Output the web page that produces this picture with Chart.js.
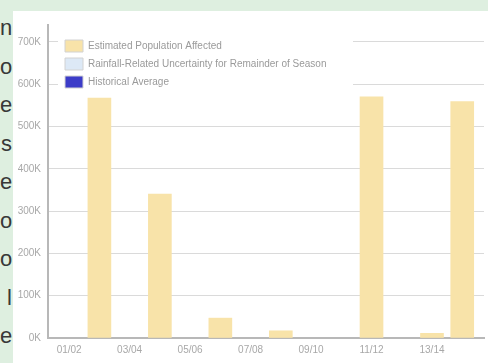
<!DOCTYPE html>
<html>
<head>
<meta charset="utf-8">
<script src="https://cdn.jsdelivr.net/npm/chart.js@4/dist/chart.umd.min.js"></script>
<style>
    html, body { margin: 0; padding: 0; }
    body { width: 488px; height: 363px; background: #deefe0; position: relative; overflow: hidden; font-family: 'Liberation Sans', Arial, sans-serif; }
    #cote { position: absolute; left: 0; top: 9px; width: 12px; text-align: right; color: #383838; font-size: 22px; line-height: 38.5px; overflow: hidden; }
    #panneau { position: absolute; left: 13px; top: 11px; width: 475px; height: 352px; background: #fff; }
</style>
</head>
<body>
<div id="cote">n<br>o<br>e<br>s<br>e<br>o<br>o<br>l<br>e</div>
<div id="panneau"><canvas id="populationGraphique" width="475" height="352"></canvas></div>
<script>
    // Données
    var saisons = ['01/02', '02/03', '03/04', '04/05', '05/06', '06/07', '07/08', '08/09', '09/10', '10/11', '11/12', '12/13', '13/14', '14/15'];
    var populationAffectee = [null, 567000, null, 340000, null, 47000, null, 17000, null, null, 570000, null, 11000, 559000];
    var incertitude = [];
    var moyenneHistorique = [];
    var ticksX = [0, 2, 4, 6, 8, 10, 12];
    var ticksY = [0, 100000, 200000, 300000, 400000, 500000, 600000, 700000];

    function enPoints(valeurs) {
        return valeurs.map(function(v, i) { return { x: i, y: v }; });
    }

    Chart.defaults.font.family = "'Liberation Sans', Arial, sans-serif";

    // fond blanc derrière la légende (elle est dessinée dans la zone du graphique)
    var fondLegende = {
        id: 'fondLegende',
        beforeDraw: function(chart) {
            var lg = chart.legend;
            if (!lg || lg._fondPatch) return;
            var dessin = lg.draw;
            lg.draw = function() {
                var ca = chart.chartArea;
                this.left = ca.left + 11;
                this.top = ca.top + 9;
                var c = chart.ctx;
                c.save();
                c.fillStyle = '#ffffff';
                c.fillRect(ca.left + 10, ca.top + 8, 295, 62);
                c.restore();
                dessin.call(this);
            };
            lg._fondPatch = true;
        }
    };

    var ctx = document.getElementById('populationGraphique').getContext('2d');
    var graphique = new Chart(ctx, {
        type: 'bar',
        data: {
            datasets: [
                {
                    label: 'Estimated Population Affected',
                    data: enPoints(populationAffectee),
                    backgroundColor: '#f8e3a9',
                    borderWidth: 0
                },
                {
                    label: 'Rainfall-Related Uncertainty for Remainder of Season',
                    data: enPoints(incertitude),
                    backgroundColor: '#dde9f6',
                    borderWidth: 0
                },
                {
                    label: 'Historical Average',
                    data: enPoints(moyenneHistorique),
                    backgroundColor: '#3c3cc8',
                    borderWidth: 0
                }
            ]
        },
        options: {
            responsive: false,
            animation: false,
            grouped: false,
            barThickness: 23,
            layout: { padding: { top: 14, right: 4, left: 0, bottom: 0 } },
            plugins: {
                tooltip: { enabled: false },
                legend: {
                    position: 'chartArea',
                    align: 'start',
                    labels: {
                        boxWidth: 18,
                        boxHeight: 12,
                        padding: 6,
                        color: '#9a9a9a',
                        font: { size: 10 },
                        generateLabels: function(chart) {
                            var items = Chart.defaults.plugins.legend.labels.generateLabels(chart);
                            items.forEach(function(it) { it.strokeStyle = '#d2d2d2'; it.lineWidth = 1; });
                            return items;
                        }
                    }
                }
            },
            scales: {
                x: {
                    type: 'linear',
                    offset: false,
                    min: -0.7,
                    max: 13.72,
                    grid: { display: false, drawTicks: false, offset: false },
                    border: { color: '#b8b8b8', width: 2 },
                    afterBuildTicks: function(s) { s.ticks = ticksX.map(function(v) { return { value: v }; }); },
                    afterFit: function(s) { s.height = 25; },
                    ticks: {
                        color: '#a8a8a8',
                        font: { size: 10 },
                        padding: 6,
                        maxRotation: 0,
                        autoSkip: false,
                        callback: function(value) { return saisons[value]; }
                    }
                },
                y: {
                    min: 0,
                    max: 740000,
                    grid: { color: '#dadada', drawTicks: false },
                    border: { color: '#b8b8b8', width: 2 },
                    afterBuildTicks: function(s) { s.ticks = ticksY.map(function(v) { return { value: v }; }); },
                    afterFit: function(s) { s.width = 35; },
                    ticks: {
                        color: '#a8a8a8',
                        font: { size: 10 },
                        padding: 7,
                        callback: function(value) { return (value / 1000) + 'K'; }
                    }
                }
            }
        },
        plugins: [fondLegende]
    });
</script>
</body>
</html>
